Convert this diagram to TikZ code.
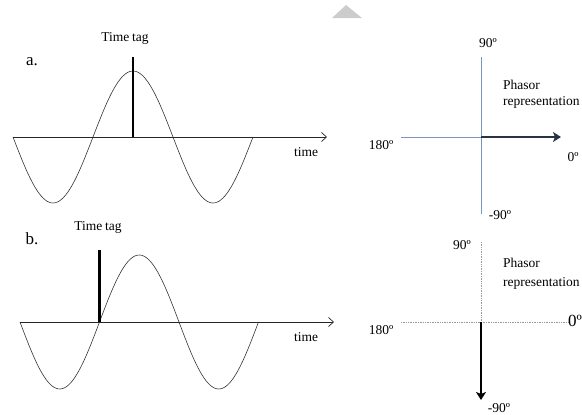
\documentclass[tikz,border=0pt]{standalone}
\usepackage{fontspec}
\setmainfont{Liberation Serif}
\usetikzlibrary{arrows.meta}
\definecolor{axblue}{RGB}{120,150,185}
\definecolor{phasdark}{RGB}{38,52,70}
\tikzset{
  lbl/.style={inner sep=0pt, font=\fontsize{13.5}{14}\selectfont},
  biglbl/.style={inner sep=0pt, font=\fontsize{17}{18}\selectfont},
  wave/.style={line width=0.6pt, black!80},
  taxis/.style={line width=0.7pt, black!85, -{Straight Barb[length=5pt,width=9pt]}},
  tagbar/.style={line width=2.6pt, black},
  paxis/.style={line width=0.8pt, axblue},
  daxis/.style={line width=0.7pt, gray!80, densely dotted},
}
\begin{document}
\begin{tikzpicture}[x=1pt,y=-1pt]
\useasboundingbox (0,0) rectangle (582,415);
% decorative small triangle
\fill[gray!40] (332,18) -- (346,5) -- (362,18) -- cycle;

% ---------- panel a ----------
\coordinate (a0) at (13,137);
\coordinate (aend) at (327,137);
\coordinate (atagtop) at (133,57);
\coordinate (atagbot) at (133,137);
\draw[wave] plot[domain=13:253, samples=120, smooth] (\x, {137+66*sin(2.25*(\x-13))});
\draw[taxis] (a0) -- (aend);
\draw[tagbar] (atagbot) -- (atagtop);
\node[lbl] (atag) at (125,38) {Time\kern-0.5pt\ tag};
\node[biglbl] (alab) at (32,62) {a.};
\node[lbl] (atime) at (306,152) {time};

% phasor a
\coordinate (pao) at (481,137);
\coordinate (pat) at (481,57);
\coordinate (pab) at (481,214);
\coordinate (pal) at (401,137);
\coordinate (par) at (561,137);
\draw[paxis] (pat) -- (pab);
\draw[paxis] (pal) -- (pao);
\draw[line width=2.8pt, phasdark, -{Stealth[length=8pt,width=10pt,inset=2pt]}] (pao) -- (par);
\node[lbl] (pa90) at (488,43) {90º};
\node[lbl] (pa180) at (381,145) {180º};
\node[lbl] (pa0) at (573,157) {0º};
\node[lbl] (pam90) at (500,215) {-90º};
\node[lbl, anchor=west] (paph) at (503,85) {Phasor};
\node[lbl, anchor=west] (parep) at (503,102) {representation};

% ---------- panel b ----------
\coordinate (b0) at (20,322);
\coordinate (bend) at (334,322);
\coordinate (btagtop) at (99.5,250);
\coordinate (btagbot) at (99.5,322);
\draw[wave] plot[domain=20:258, samples=120, smooth] (\x, {322+67*sin(2.2642*(\x-20))});
\draw[taxis] (b0) -- (bend);
\draw[tagbar] (btagbot) -- (btagtop);
\node[lbl] (btag) at (98,227) {Time\kern-0.5pt\ tag};
\node[biglbl] (blab) at (32,239) {b.};
\node[lbl] (btime) at (306,337) {time};

% phasor b
\coordinate (pbo) at (481,322);
\coordinate (pbt) at (481,242);
\coordinate (pbb) at (481,400);
\coordinate (pbl) at (401,322);
\coordinate (pbr) at (568,322);
\draw[daxis] (pbt) -- (pbo);
\draw[daxis] (pbl) -- (pbr);
\draw[line width=2.8pt, black, -{Stealth[length=8pt,width=10pt,inset=2pt]}] (pbo) -- (pbb);
\node[lbl] (pb90) at (462,245) {90º};
\node[lbl] (pb180) at (381,330) {180º};
\node[biglbl] (pb0) at (575,321) {0º};
\node[lbl] (pbm90) at (499,408) {-90º};
\node[lbl, anchor=west] (pbph) at (503,263) {Phasor};
\node[lbl, anchor=west] (pbrep) at (503,283) {representation};
\end{tikzpicture}
\end{document}
